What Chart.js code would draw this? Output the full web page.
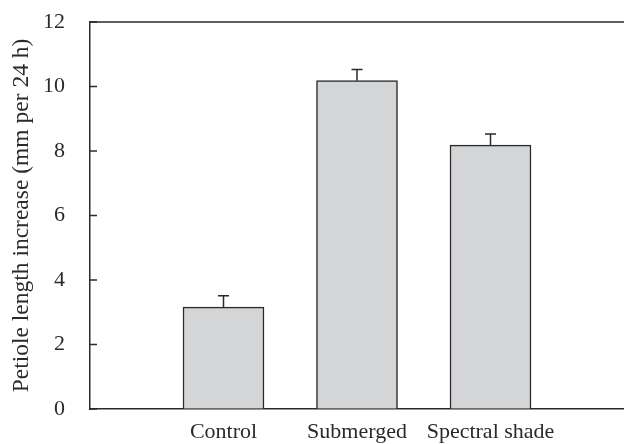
<!DOCTYPE html>
<html>
<head>
<meta charset="utf-8">
<script src="https://cdn.jsdelivr.net/npm/chart.js@4"></script>
<style>
  html, body { margin: 0; padding: 0; background: #fff; }
  #wrap { width: 624px; height: 444px; }
</style>
</head>
<body>
<div id="wrap"><canvas id="myChart"></canvas></div>
<script>
// Petiole length bars (empty slots at both ends keep the spacing)
const labels = ['', 'Control', 'Submerged', 'Spectral shade', ''];
const values = [null, 3.16, 10.18, 8.18, null];
const errors = [null, 0.35, 0.35, 0.35, null];
const yTicks = [0, 2, 4, 6, 8, 10, 12];

const ink = '#2a2a2a';
const serif = "'Liberation Serif', 'Times New Roman', serif";

// upper error bars, inward y ticks and the top frame line
const extras = {
    id: 'extras',
    afterDatasetsDraw(chart) {
        const ctx = chart.ctx;
        const y = chart.scales.y;
        const area = chart.chartArea;
        ctx.save();
        ctx.strokeStyle = ink;
        ctx.lineWidth = 1.5;

        chart.getDatasetMeta(0).data.forEach((bar, i) => {
            if (values[i] == null) return;
            const top = y.getPixelForValue(values[i] + errors[i]);
            ctx.beginPath();
            ctx.moveTo(bar.x, bar.y);
            ctx.lineTo(bar.x, top);
            ctx.moveTo(bar.x - 5.5, top);
            ctx.lineTo(bar.x + 5.5, top);
            ctx.stroke();
        });

        yTicks.forEach(v => {
            const py = y.getPixelForValue(v);
            ctx.beginPath();
            ctx.moveTo(area.left, py);
            ctx.lineTo(area.left + 7, py);
            ctx.stroke();
        });

        ctx.beginPath();
        ctx.moveTo(area.left, area.top);
        ctx.lineTo(chart.width, area.top);
        ctx.stroke();
        ctx.restore();
    }
};

const data = {
    labels: labels,
    datasets: [{
        data: values,
        backgroundColor: '#d4d5d7',
        borderColor: ink,
        borderWidth: 1.5,
        barThickness: 81
    }]
};

const config = {
    type: 'bar',
    data: data,
    plugins: [extras],
    options: {
        responsive: true,
        maintainAspectRatio: false,
        animation: false,
        layout: { padding: { top: 22, right: -4, bottom: 0, left: 0 } },
        plugins: {
            legend: { display: false },
            tooltip: { enabled: false }
        },
        scales: {
            x: {
                offset: false,
                grid: { display: true, drawOnChartArea: false, drawTicks: false },
                border: { display: true, color: ink, width: 1.5 },
                ticks: {
                    padding: 10,
                    color: ink,
                    maxRotation: 0,
                    autoSkip: false,
                    font: { family: serif, size: 22 }
                },
                afterFit(scale) {
                    scale.height = 35;
                    scale.paddingLeft = 0;
                    scale.paddingRight = 0;
                }
            },
            y: {
                min: 0,
                max: 12,
                grid: { display: true, drawOnChartArea: false, drawTicks: false },
                border: { display: true, color: ink, width: 1.5 },
                ticks: {
                    stepSize: 2,
                    padding: 25,
                    color: ink,
                    font: { family: serif, size: 22 }
                },
                title: {
                    display: true,
                    text: 'Petiole length increase (mm per 24 h)',
                    color: ink,
                    padding: { top: 8, bottom: 0 },
                    font: { family: serif, size: 23.5 }
                },
                afterFit(scale) {
                    scale.width = 90;
                    scale.paddingTop = 0;
                    scale.paddingBottom = 0;
                }
            }
        }
    }
};

const myChart = new Chart(
    document.getElementById('myChart'),
    config
);
</script>
</body>
</html>
